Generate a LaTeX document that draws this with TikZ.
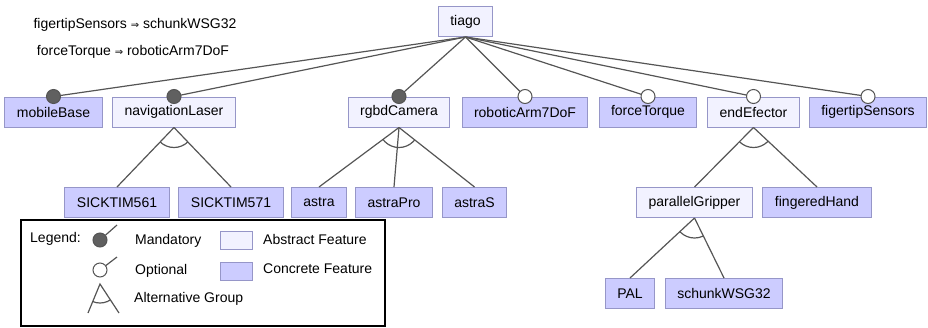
\documentclass[tikz,border=0pt]{standalone}
\usepackage{fontspec}
\setmainfont{Liberation Sans}
\newfontfamily\symfont{DejaVu Sans}
\usepackage{xcolor}
\usetikzlibrary{positioning}
\definecolor{concretefill}{RGB}{204,204,255}
\definecolor{abstractfill}{RGB}{242,242,255}
\definecolor{featborder}{RGB}{150,150,200}
\definecolor{linegray}{RGB}{85,85,85}
\definecolor{mandfill}{RGB}{96,96,96}
\newcommand{\implarrow}{{\symfont\fontsize{10}{12}\selectfont ⇒}}
\tikzset{%
feature/.style={draw=featborder,line width=1pt,minimum height=30pt,inner xsep=12pt,inner ysep=0pt,font=\fontsize{14}{16}\selectfont},
abstract/.style={feature,fill=abstractfill},
concrete/.style={feature,fill=concretefill},
mandatory/.style={circle,draw=linegray,line width=1pt,fill=mandfill,minimum size=14pt,inner sep=0pt},
optional/.style={circle,draw=linegray,line width=1pt,fill=white,minimum size=14pt,inner sep=0pt},
relation/.style={draw=linegray,line width=1.2pt},
legendtext/.style={anchor=west,inner sep=0pt,font=\fontsize{14}{16}\selectfont},
swatch/.style={feature,minimum width=32pt,minimum height=18pt,inner sep=0pt}
}

\begin{document}
\begin{tikzpicture}[x=1pt,y=-1pt]
    \useasboundingbox (0,0) rectangle (928,327);

    % constraints
    \node[legendtext,anchor=center] (c1) at (135,25) {figertipSensors \implarrow{} schunkWSG32};
    \node[legendtext,anchor=center] (c2) at (133,52) {forceTorque \implarrow{} roboticArm7DoF};

    % features
    \node[abstract] (tiago) at (465.5,21.5) {tiago};
    \node[concrete] (base) at (53.5,112) {mobileBase};
    \node[abstract] (laser) at (174,112) {navigationLaser};
    \node[abstract] (camera) at (399,112) {rgbdCamera};
    \node[concrete] (arm) at (525,112) {roboticArm7DoF};
    \node[concrete] (ft) at (648,112) {forceTorque};
    \node[abstract] (eef) at (753.5,112) {endEfector};
    \node[concrete] (tips) at (868,112) {figertipSensors};

    \node[concrete] (tim561) at (117,202.5) {SICKTIM561};
    \node[concrete] (tim571) at (231,202.5) {SICKTIM571};
    \node[concrete] (astra) at (319,202.5) {astra};
    \node[concrete] (astrapro) at (394,202.5) {astraPro};
    \node[concrete] (astras) at (474.5,202.5) {astraS};
    \node[abstract] (gripper) at (694.5,202.5) {parallelGripper};
    \node[concrete] (hand) at (817,202.5) {fingeredHand};

    \node[concrete] (pal) at (630,293.5) {PAL};
    \node[concrete] (schunk) at (724,293.5) {schunkWSG32};

    % tiago children
    \foreach \c in {base,laser,camera,arm,ft,eef,tips}
      \draw[relation] (tiago.south) -- (\c.north);
    \foreach \c in {base,laser,camera}
      \node[mandatory] (m-\c) at (\c.north) {};
    \foreach \c in {arm,ft,eef,tips}
      \node[optional] (o-\c) at (\c.north) {};

    % alternative groups
    \foreach \p/\first/\last/\kids in {laser/tim561/tim571/{tim561,tim571},
                                       camera/astra/astras/{astra,astrapro,astras},
                                       eef/gripper/hand/{gripper,hand},
                                       gripper/pal/schunk/{pal,schunk}} {
      \foreach \k in \kids
        \draw[relation] (\p.south) -- (\k.north);
      \begin{scope}
        \clip (\p.south) -- (\first.north) -- (\last.north) -- cycle;
        \draw[relation] (\p.south) circle (20);
      \end{scope}
    }

    % legend
    \node[draw=black,line width=1.2pt,minimum width=364pt,minimum height=106pt,inner sep=0pt] (legend) at (203,273) {};
    \node[legendtext] (lgd) at (30,239) {Legend:};

    \coordinate (mtip) at (117,225);
    \node[mandatory] (lm) at (100,240) {};
    \draw[relation] (lm) -- (mtip);
    \node[legendtext] (lmt) at (135,241) {Mandatory};

    \coordinate (otip) at (117,257);
    \node[optional] (lo) at (100,270) {};
    \draw[relation] (lo) -- (otip);
    \node[legendtext] (lot) at (135,271) {Optional};

    \coordinate (apex) at (100,284);
    \coordinate (aleft) at (88,313);
    \coordinate (aright) at (119,313);
    \draw[relation] (aleft) -- (apex) -- (aright);
    \begin{scope}
      \clip (apex) -- (aleft) -- (aright) -- cycle;
      \draw[relation] (apex) circle (19);
    \end{scope}
    \node[legendtext] (lat) at (134,299) {Alternative Group};

    \node[swatch,fill=abstractfill] (la) at (236,240) {};
    \node[legendtext] (lats) at (263,239) {Abstract Feature};
    \node[swatch,fill=concretefill] (lc) at (236,271) {};
    \node[legendtext] (lct) at (263,269) {Concrete Feature};

  \end{tikzpicture}
\end{document}
